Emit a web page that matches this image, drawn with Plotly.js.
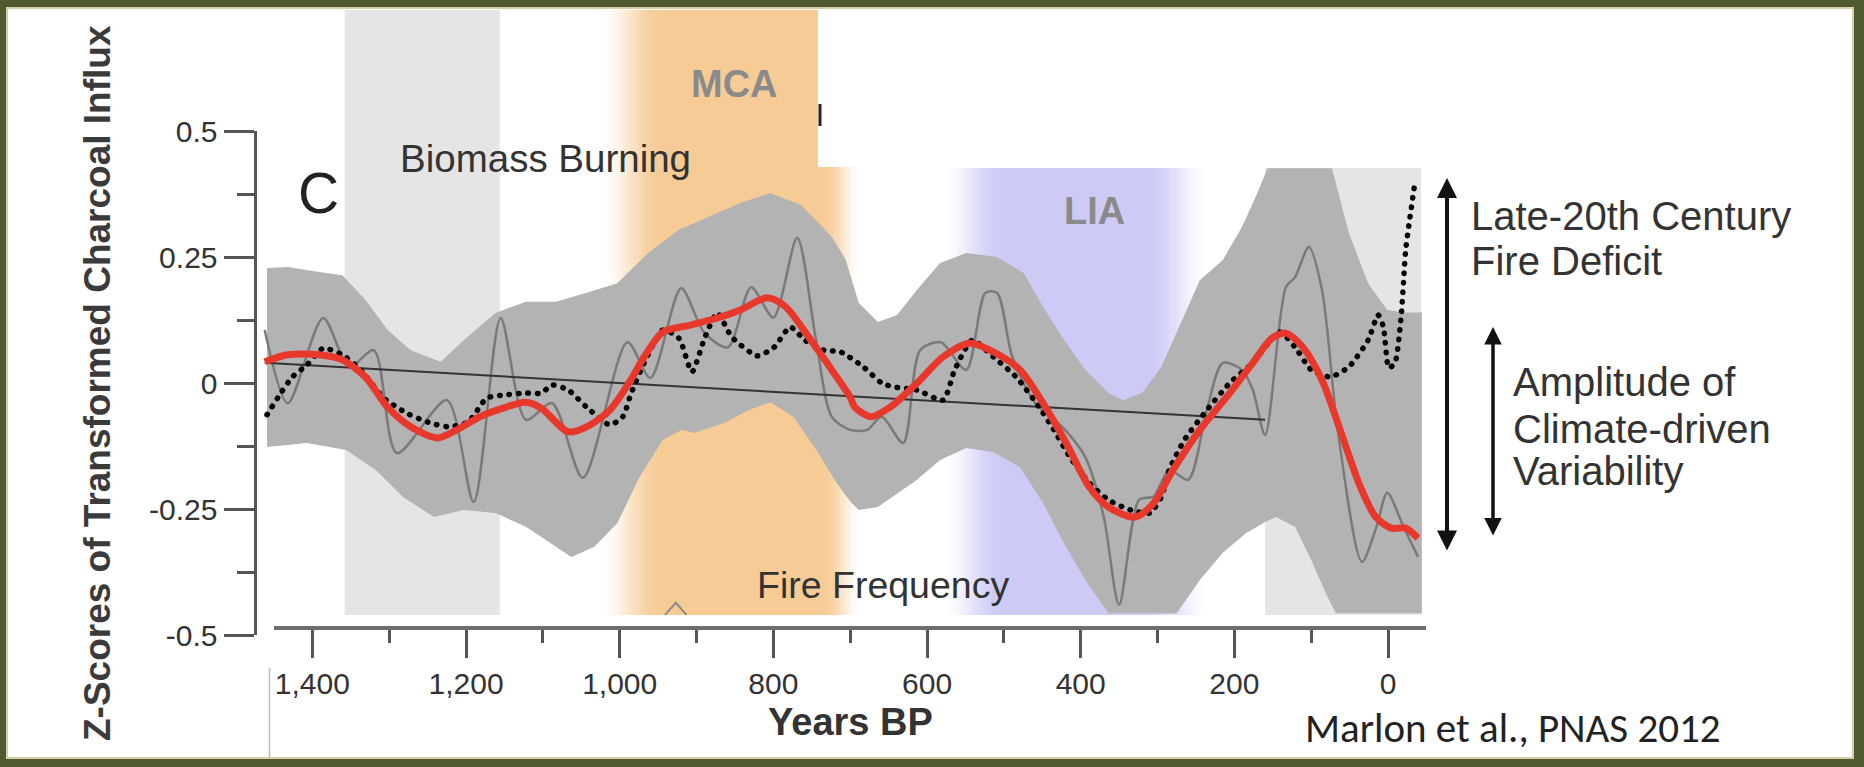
<!DOCTYPE html>
<html>
<head>
<meta charset="utf-8">
<script src="https://cdn.plot.ly/plotly-3.0.1.min.js"></script>
<style>html,body{margin:0;padding:0;background:#4f5a2e;overflow:hidden}#chart{width:1864px;height:767px}
.tracedotted .js-line{stroke-linecap:round !important}</style>
</head>
<body>
<div id="chart"></div>
<script>
// ---------------- data ----------------
const xTickVals = [1400, 1200, 1000, 800, 600, 400, 200, 0];
const xTickText = ["1,400", "1,200", "1,000", "800", "600", "400", "200", "0"];
const yTickVals = [0.5, 0.25, 0, -0.25, -0.5];
const yTickText = ["0.5", "0.25", "0", "-0.25", "-0.5"];

// upper / lower edge of the grey uncertainty envelope
const bandUpperYears = [1459,1432,1391,1361,1331,1302,1272,1233,1203,1162,1122,1083,1043,1003,963,923,884,843,804,764,724,706,689,664,639,613,583,549,509,474,449,424,394,364,345,320,295,270,245,215,190,170,157,73,51,26,1,-20,-44];
const bandUpper      = [0.228,0.230,0.220,0.214,0.165,0.105,0.065,0.042,0.085,0.139,0.161,0.161,0.179,0.198,0.258,0.304,0.330,0.357,0.377,0.353,0.290,0.245,0.159,0.121,0.135,0.185,0.238,0.258,0.250,0.218,0.151,0.091,0.026,-0.020,-0.034,-0.020,0.032,0.119,0.204,0.244,0.310,0.377,0.426,0.426,0.298,0.198,0.145,0.140,0.140];
const bandLowerYears = [1459,1407,1356,1317,1282,1242,1203,1162,1122,1083,1063,1033,1003,974,944,919,903,863,833,804,774,744,718,700,689,664,613,583,549,514,479,449,424,394,364,275,245,215,185,160,146,121,100,81,68,-44];
const bandLower      = [-0.127,-0.119,-0.133,-0.173,-0.226,-0.266,-0.252,-0.258,-0.285,-0.325,-0.345,-0.325,-0.278,-0.186,-0.113,-0.093,-0.099,-0.079,-0.054,-0.038,-0.067,-0.133,-0.198,-0.235,-0.252,-0.246,-0.192,-0.153,-0.129,-0.137,-0.167,-0.238,-0.312,-0.391,-0.457,-0.457,-0.391,-0.337,-0.298,-0.276,-0.266,-0.285,-0.351,-0.417,-0.457,-0.457];

// thin grey line
const greyYears = [1462,1432,1386,1352,1320,1290,1225,1190,1155,1122,1088,1048,990,960,920,890,859,829,800,769,745,724,700,678,659,631,609,582,549,524,509,489,459,424,394,370,350,324,305,285,260,236,215,190,176,160,133,121,103,86,65,34,15,1,-20,-39];
const greyVals  = [0.105,-0.040,0.129,0.032,0.065,-0.139,-0.034,-0.236,0.129,-0.073,-0.040,-0.188,0.081,0.010,0.188,0.100,0.071,0.190,0.130,0.288,0.090,-0.067,-0.093,-0.093,-0.067,-0.119,0.065,0.081,0.026,0.179,0.179,0.052,-0.040,-0.087,-0.147,-0.266,-0.440,-0.232,-0.225,-0.173,-0.192,-0.054,0.040,0.026,-0.014,-0.103,0.190,0.210,0.270,0.185,-0.099,-0.355,-0.285,-0.218,-0.285,-0.345];

// red smoothed line
const redYears = [1462,1432,1391,1361,1331,1302,1272,1237,1212,1182,1152,1122,1102,1067,1043,1013,988,968,944,908,873,843,808,784,754,724,700,694,673,648,613,579,544,514,479,449,419,389,364,329,305,280,245,206,176,151,133,111,86,61,36,16,-4,-23,-39];
const redVals  = [0.042,0.056,0.056,0.046,0.012,-0.048,-0.087,-0.109,-0.093,-0.067,-0.050,-0.038,-0.050,-0.097,-0.087,-0.054,0.000,0.052,0.101,0.115,0.129,0.145,0.169,0.151,0.091,0.026,-0.028,-0.048,-0.067,-0.048,0.000,0.052,0.079,0.062,0.026,-0.040,-0.119,-0.206,-0.246,-0.266,-0.238,-0.173,-0.093,-0.020,0.040,0.089,0.099,0.071,0.006,-0.099,-0.206,-0.266,-0.288,-0.288,-0.308];

// black dotted line
const dotYears = [1459,1441,1426,1407,1386,1361,1337,1307,1277,1247,1222,1197,1173,1152,1122,1102,1088,1067,1043,1013,996,985,968,944,923,906,889,873,854,821,799,778,759,734,713,683,659,643,613,579,564,541,514,484,454,435,414,389,364,335,310,295,285,265,236,206,176,141,121,100,75,51,26,13,6,-1,-9,-17,-23,-34];
const dotVals  = [-0.063,-0.020,0.012,0.036,0.069,0.056,0.026,-0.030,-0.060,-0.079,-0.087,-0.077,-0.030,-0.024,-0.020,-0.020,-0.004,-0.014,-0.048,-0.083,-0.067,-0.020,0.040,0.105,0.089,0.022,0.091,0.139,0.091,0.054,0.071,0.111,0.085,0.065,0.062,0.032,0.000,-0.008,-0.014,-0.034,0.026,0.085,0.052,0.012,-0.048,-0.093,-0.147,-0.198,-0.232,-0.252,-0.258,-0.226,-0.173,-0.113,-0.054,0.000,0.040,0.101,0.071,0.026,0.012,0.032,0.085,0.135,0.111,0.030,0.040,0.131,0.264,0.387];

// straight trend line
const trendYears = [1462, 160];
const trendVals  = [0.040, -0.073];

// small peak of the fire-frequency series poking up at the bottom
const fireYears = [941, 927, 913];
const fireVals  = [-0.460, -0.436, -0.460];

// shaded periods (years BP)
const grayPeriod1 = [1358, 1156];
const mcaPeriod   = [1026, 948, 733, 686];   // outer-left, inner-left, inner-right, outer-right
const mcaTopEnd   = 742;
const liaPeriod   = [580, 504, 312, 232];
const grayPeriod2 = [160, -43];

// ---------------- layout helpers ----------------
const W = 1864, H = 767;
const PX = x => x / W;
const PY = y => 1 - y / H;

const ORANGE = [246, 203, 150];
const LIA = [205, 203, 246];
const mix = (c, a) => {
  const r = Math.round(255 + (c[0] - 255) * a), g = Math.round(255 + (c[1] - 255) * a), b = Math.round(255 + (c[2] - 255) * a);
  return `rgb(${r},${g},${b})`;
};

const shapes = [];
// white slide panel
shapes.push({type:'rect', xref:'paper', yref:'paper', x0:PX(7), x1:PX(1853), y0:PY(758), y1:PY(8),
  fillcolor:'#ffffff', line:{color:'#d9cfa6', width:2}, layer:'below'});

function band(x0, x1, yTop, yBot, color) {
  shapes.push({type:'rect', xref:'x', yref:'paper', x0:x0, x1:x1, y0:PY(yBot), y1:PY(yTop),
    fillcolor:color, line:{width:0}, layer:'below'});
}
function fade(xFrom, xTo, yTop, yBot, col, steps) {
  // colour goes from white at xFrom to full colour at xTo (opaque steps, slight overlap)
  for (let i = 0; i < steps; i++) {
    const a0 = xFrom + (xTo - xFrom) * i / steps;
    const a1 = xFrom + (xTo - xFrom) * (i + 1.3) / steps;
    const t = (i + 0.5) / steps;
    band(a0, a1, yTop, yBot, mix(col, t * t * (3 - 2 * t)));
  }
}
// light grey period (left)
band(grayPeriod1[0], grayPeriod1[1], 10, 615, '#e5e5e5');
// MCA (orange), upper part cut off at the white box
fade(mcaPeriod[0], mcaPeriod[1], 10, 167, ORANGE, 40);
band(mcaPeriod[1], mcaTopEnd, 10, 167, mix(ORANGE, 1));
// MCA lower part
fade(mcaPeriod[0], mcaPeriod[1], 167, 615, ORANGE, 40);
band(mcaPeriod[1], mcaPeriod[2], 167, 615, mix(ORANGE, 1));
fade(mcaPeriod[3], mcaPeriod[2], 167, 615, ORANGE, 30);
// LIA (lavender)
fade(liaPeriod[0], liaPeriod[1], 168, 615, LIA, 40);
band(liaPeriod[1], liaPeriod[2], 168, 615, mix(LIA, 1));
fade(liaPeriod[3], liaPeriod[2], 168, 615, LIA, 40);
// light grey period (right)
band(grayPeriod2[0], grayPeriod2[1], 168, 615, '#e5e5e5');

// x axis base line
shapes.push({type:'line', xref:'paper', yref:'paper', x0:PX(274), x1:PX(1426), y0:PY(628), y1:PY(628),
  line:{color:'#6e6e6e', width:4}, layer:'above'});
// small dark glyph fragment at the edge of the white box
shapes.push({type:'line', xref:'paper', yref:'paper', x0:PX(820), x1:PX(820), y0:PY(104), y1:PY(126),
  line:{color:'#222', width:3}, layer:'above'});
// thin edge of pasted picture, bottom left
shapes.push({type:'line', xref:'paper', yref:'paper', x0:PX(269.5), x1:PX(269.5), y0:PY(668), y1:PY(757),
  line:{color:'#bbbbbb', width:1.5}, layer:'above'});

const HEL = 'Liberation Sans, Arial, Helvetica, sans-serif';
const ann = [];
function txt(t, x, y, size, opts) {
  opts = opts || {};
  ann.push(Object.assign({text:t, x:PX(x), y:PY(y), xref:'paper', yref:'paper', showarrow:false,
    xanchor:'center', yanchor:'middle', borderpad:0,
    font:{family:HEL, size:size, color:'#333'}}, opts));
}
txt('C', 318, 193, 57, {font:{family:HEL, size:57, color:'#222'}});
txt('Biomass Burning', 545, 158, 38.5);
txt('<b>MCA</b>', 734, 84, 38, {font:{family:HEL, size:38, color:'#8a8a8a'}});
txt('<b>LIA</b>', 1094, 211, 38, {font:{family:HEL, size:38, color:'#8a8a8a'}});
txt('Fire Frequency', 882.5, 585, 37.5);
txt('Late-20th Century', 1470, 216.5, 40, {xanchor:'left'});
txt('Fire Deficit', 1470, 261, 40, {xanchor:'left'});
txt('Amplitude of', 1512, 382.5, 40, {xanchor:'left'});
txt('Climate-driven', 1512, 428.5, 40, {xanchor:'left'});
txt('Variability', 1512, 470.5, 40, {xanchor:'left'});
txt('<b>Years BP</b>', 850, 722, 38);
txt('Marlon et al., PNAS 2012', 1304, 728, 41, {xanchor:'left', font:{family:'Carlito, Lato, sans-serif', size:41, color:'#222'}});
txt('<b>Z-Scores of Transformed Charcoal Influx</b>', 97, 383, 37, {textangle:-90, font:{family:HEL, size:37, color:'#3a3a3a'}});

// double-headed arrows
ann.push({text:'', x:PX(1447), y:PY(178), xref:'paper', yref:'paper', ax:0, ay:552-178,
  showarrow:true, arrowside:'end+start', arrowhead:2, startarrowhead:2, arrowsize:1, startarrowsize:1,
  arrowwidth:4, arrowcolor:'#111', standoff:0, startstandoff:0});
ann.push({text:'', x:PX(1493), y:PY(327), xref:'paper', yref:'paper', ax:0, ay:537-327,
  showarrow:true, arrowside:'end+start', arrowhead:2, startarrowhead:2, arrowsize:1, startarrowsize:1,
  arrowwidth:3.5, arrowcolor:'#111', standoff:0, startstandoff:0});

const traces = [
  {x: bandUpperYears.concat(bandLowerYears.slice().reverse()),
   y: bandUpper.concat(bandLower.slice().reverse()),
   mode:'lines', fill:'toself', fillcolor:'#b3b3b3', line:{width:0, color:'#b3b3b3'}, hoverinfo:'skip'},
  {x: fireYears, y: fireVals, mode:'lines', line:{color:'#8a8a8a', width:2}, hoverinfo:'skip'},
  {x: greyYears, y: greyVals, mode:'lines', line:{color:'#7a7a7a', width:2.5, shape:'spline', smoothing:0.8}, hoverinfo:'skip'},
  {x: trendYears, y: trendVals, mode:'lines', line:{color:'#333333', width:2}, hoverinfo:'skip'},
  {x: dotYears, y: dotVals, mode:'lines', uid:'dotted', line:{color:'#000000', width:5.5, dash:'0.5px,9px', shape:'spline', smoothing:0.6}, hoverinfo:'skip'},
  {x: redYears, y: redVals, mode:'lines', line:{color:'#e8382c', width:7, shape:'spline', smoothing:0.8}, hoverinfo:'skip'}
];

const tickFont = {family:HEL, size:30, color:'#333'};
const layout = {
  width:W, height:H, margin:{l:0, r:0, t:0, b:0},
  paper_bgcolor:'#4f5a2e', plot_bgcolor:'rgba(0,0,0,0)', showlegend:false,
  xaxis:{domain:[PX(250.9), PX(1430.3)], range:[1480, -55], anchor:'free', position:PY(628),
    showline:false, showgrid:false, zeroline:false, ticks:'outside', ticklen:29, tickwidth:3, tickcolor:'#555',
    tickmode:'array', tickvals:xTickVals, ticktext:xTickText, tickfont:tickFont,
    minor:{tickmode:'linear', tick0:0, dtick:100, ticks:'outside', ticklen:14, tickwidth:3, tickcolor:'#555', showgrid:false}},
  yaxis:{domain:[PY(635), PY(131)], range:[-0.5, 0.5], anchor:'free', position:PX(254.5),
    showline:true, linecolor:'#555', linewidth:3, showgrid:false, zeroline:false,
    ticks:'outside', ticklen:30, tickwidth:3, tickcolor:'#555',
    tickmode:'array', tickvals:yTickVals, ticktext:yTickText, tickfont:tickFont,
    minor:{tickmode:'linear', tick0:0, dtick:0.125, ticks:'outside', ticklen:17, tickwidth:3, tickcolor:'#555', showgrid:false}},
  shapes:shapes, annotations:ann
};
Plotly.newPlot('chart', traces, layout, {displayModeBar:false, staticPlot:true});
</script>
</body>
</html>
